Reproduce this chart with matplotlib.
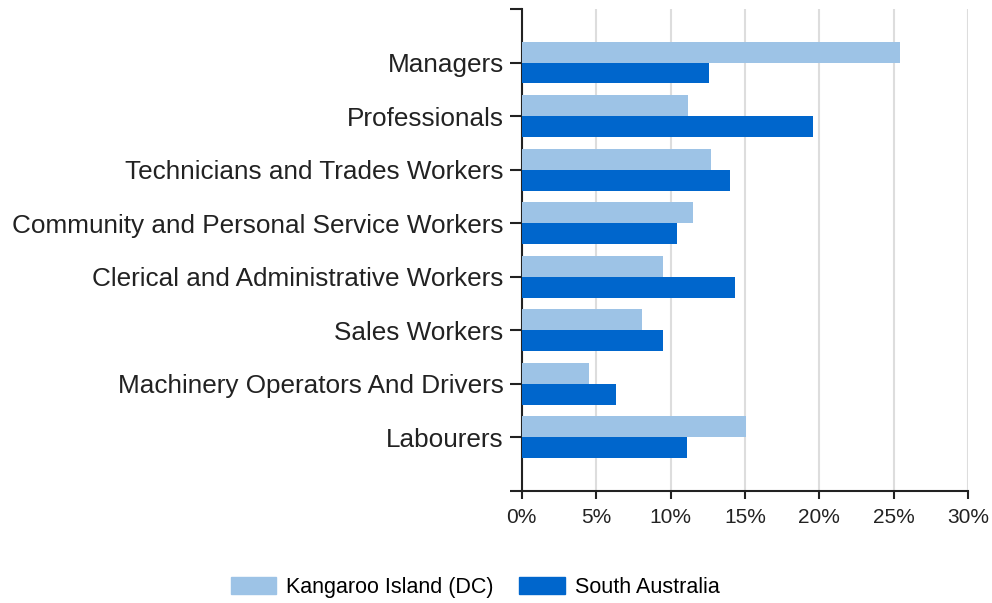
import numpy as np
import matplotlib
matplotlib.use('Agg')
import matplotlib.pyplot as plt
from matplotlib.patches import Patch

# occupations, top to bottom
categories = ['Managers', 'Professionals', 'Technicians and Trades Workers',
              'Community and Personal Service Workers', 'Clerical and Administrative Workers',
              'Sales Workers', 'Machinery Operators And Drivers', 'Labourers']
kangaroo_island = [25.4, 11.2, 12.7, 11.5, 9.5, 8.1, 4.5, 15.1]
south_australia = [12.6, 19.6, 14.0, 10.4, 14.3, 9.5, 6.3, 11.1]
series_names = ['Kangaroo Island (DC)', 'South Australia']
x_ticks = [0, 5, 10, 15, 20, 25, 30]

light = '#9DC3E6'
dark = '#0066CC'

plt.rcParams['font.family'] = ['Liberation Sans', 'DejaVu Sans']

fig = plt.figure(figsize=(9.92, 6.03), dpi=100)
ax = fig.add_axes([0.526, 0.186, 0.45, 0.799])

y = np.arange(len(categories))
h = 0.39
ax.barh(y - h / 2, kangaroo_island, height=h, color=light, zorder=3)
ax.barh(y + h / 2, south_australia, height=h, color=dark, zorder=3)

ax.set_ylim(len(categories), -1)
ax.set_xlim(0, 30)
ax.set_yticks(y)
ax.set_yticklabels(categories, fontsize=18.8, color='#222222')
ax.set_yticks([-1, len(categories)], minor=True)
ax.tick_params(axis='y', which='both', length=9, width=1.5, color='#222222', pad=4)
ax.set_xticks(x_ticks)
ax.set_xticklabels([f'{t}%' for t in x_ticks], fontsize=15, color='#222222')
ax.tick_params(axis='x', length=6, width=1.5, color='#222222', pad=6)

ax.grid(axis='x', color='#DDDDDD', linewidth=1.5, zorder=0)
for s in ['top', 'right']:
    ax.spines[s].set_visible(False)
for s in ['left', 'bottom']:
    ax.spines[s].set_linewidth(1.5)
    ax.spines[s].set_color('#222222')

handles = [Patch(color=light), Patch(color=dark)]
fig.legend(handles, series_names, loc='center', bbox_to_anchor=(0.479, 0.025),
           ncol=2, frameon=False, fontsize=15.5, handlelength=2.1, handleheight=0.84,
           columnspacing=1.2, handletextpad=0.47, borderpad=0.2)

fig.savefig('out.png', dpi=100)
